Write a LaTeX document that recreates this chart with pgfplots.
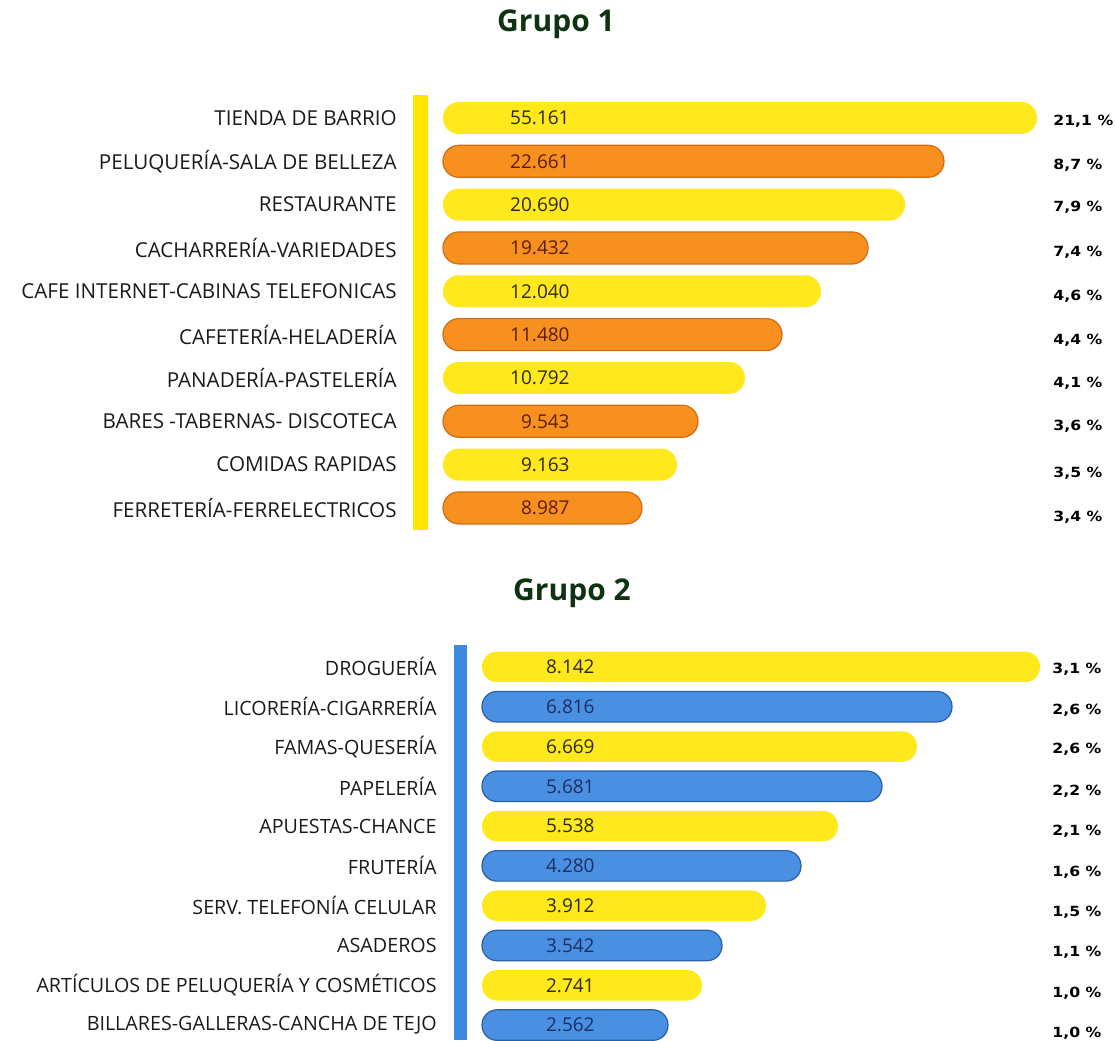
\documentclass[border=0pt]{standalone}
\usepackage{fontspec}
\setmainfont{Open Sans}
\newfontfamily\pctfont[FakeStretch=1.12]{DejaVu Sans}
\usepackage{pgfplots}
\pgfplotsset{compat=1.18}

\definecolor{amarillo}{HTML}{FFE81C}
\definecolor{lineaamarilla}{HTML}{FFE500}
\definecolor{naranja}{HTML}{F7901E}
\definecolor{naranjaborde}{HTML}{D06C12}
\definecolor{azul}{HTML}{4A90E2}
\definecolor{azulborde}{HTML}{2A5FA8}
\definecolor{lineaazul}{HTML}{3D8AE5}
\definecolor{titulo}{HTML}{0D3311}
\definecolor{texto}{HTML}{1A1A1A}
\definecolor{txtamarillo}{HTML}{2B2A10}
\definecolor{txtnaranja}{HTML}{5A1E05}
\definecolor{txtazul}{HTML}{1D2F60}

\pgfplotsset{
  grupo/.style={
    scale only axis, anchor=north west, clip=false,
    y dir=reverse, axis x line=none, axis y line=left,
    xtick=\empty, ytick={0,...,9}, major tick length=0pt,
    yticklabel style={anchor=east, inner sep=0pt, text=texto},
  },
  valor/.style={only marks, mark=none, nodes near coords,
    point meta=explicit symbolic,
    nodes near coords style={anchor=east, inner sep=0pt,
      font=\fontsize{9.5}{11}\selectfont, text=#1}},
  porcentaje/.style={only marks, mark=none, nodes near coords={\pgfplotspointmeta~\%},
    point meta=explicit symbolic,
    nodes near coords style={anchor=west, inner sep=0pt, text=black,
      font=\pctfont\bfseries\fontsize{7}{8}\selectfont}},
}

\begin{document}
\begin{tikzpicture}
\useasboundingbox (0pt,0pt) rectangle (557.5pt,-520pt);

\node[font=\fontsize{15}{18}\selectfont\bfseries, text=titulo] at (278pt,-12pt) {Grupo 1};
\node[font=\fontsize{15}{18}\selectfont\bfseries, text=titulo] at (286pt,-296.5pt) {Grupo 2};

% Grupo 1 (bar lengths as drawn, in px from the bar start)
\begin{axis}[grupo,
  at={(210.5pt,-47.5pt)}, width=347pt, height=217.5pt,
  xmin=-22, xmax=672, ymin=-0.53, ymax=9.51,
  bar width=16pt,
  y axis line style={draw=lineaamarilla, line width=7.5pt, -},
  yticklabel style={xshift=-12pt, font=\fontsize{10.3}{12}\selectfont},
  yticklabels={TIENDA DE BARRIO, PELUQUERÍA-SALA DE BELLEZA, RESTAURANTE,
    CACHARRERÍA-VARIEDADES, CAFE INTERNET-CABINAS TELEFONICAS,
    CAFETERÍA-HELADERÍA, PANADERÍA-PASTELERÍA, BARES -TABERNAS- DISCOTECA,
    COMIDAS RAPIDAS, FERRETERÍA-FERRELECTRICOS},
]
\addplot[xbar, bar shift=0pt, fill=amarillo, draw=none, rounded corners=7.9pt]
  coordinates {(594,0) (462,2) (378,4) (302,6) (234,8)};
\addplot[xbar, bar shift=0pt, fill=naranja, draw=naranjaborde, line width=0.6pt, rounded corners=7.9pt]
  coordinates {(501,1) (425,3) (339,5) (255,7) (199,9)};
\addplot[valor=txtamarillo] coordinates {(127,0) [55.161] (127,2) [20.690] (127,4) [12.040] (127,6) [10.792] (127,8) [9.163]};
\addplot[valor=txtnaranja] coordinates {(127,1) [22.661] (127,3) [19.432] (127,5) [11.480] (127,7) [9.543] (127,9) [8.987]};
\addplot[porcentaje] coordinates {
  (610,0.07) [21,1] (610,1.09) [8,7] (610,2.06) [7,9] (610,3.09) [7,4]
  (610,4.12) [4,6] (610,5.12) [4,4] (610,6.12) [4,1] (610,7.12) [3,6]
  (610,8.2) [3,5] (610,9.21) [3,4]};
\end{axis}

% Grupo 2
\begin{axis}[grupo,
  at={(230.5pt,-322.5pt)}, width=327pt, height=197.4pt,
  xmin=-21, xmax=633, ymin=-0.55, ymax=9.37,
  bar width=15.25pt,
  y axis line style={draw=lineaazul, line width=6.5pt, -},
  yticklabel style={xshift=-12pt, font=\fontsize{9.85}{11}\selectfont},
  yticklabels={DROGUERÍA, LICORERÍA-CIGARRERÍA, FAMAS-QUESERÍA, PAPELERÍA,
    APUESTAS-CHANCE, FRUTERÍA, SERV. TELEFONÍA CELULAR, ASADEROS,
    ARTÍCULOS DE PELUQUERÍA Y COSMÉTICOS, BILLARES-GALLERAS-CANCHA DE TEJO},
]
\addplot[xbar, bar shift=0pt, fill=amarillo, draw=none, rounded corners=7.5pt]
  coordinates {(558,0) (435,2) (356,4) (284,6) (220,8)};
\addplot[xbar, bar shift=0pt, fill=azul, draw=azulborde, line width=0.6pt, rounded corners=7.5pt]
  coordinates {(470,1) (400,3) (319,5) (240,7) (186,9)};
\addplot[valor=txtamarillo] coordinates {(113,0) [8.142] (113,2) [6.669] (113,4) [5.538] (113,6) [3.912] (113,8) [2.741]};
\addplot[valor=txtazul] coordinates {(113,1) [6.816] (113,3) [5.681] (113,5) [4.280] (113,7) [3.542] (113,9) [2.562]};
\addplot[porcentaje] coordinates {
  (570,0.05) [3,1] (570,1.08) [2,6] (570,2.06) [2,6] (570,3.12) [2,2]
  (570,4.12) [2,1] (570,5.15) [1,6] (570,6.16) [1,5] (570,7.17) [1,1]
  (570,8.2) [1,0] (570,9.2) [1,0]};
\end{axis}
\end{tikzpicture}
\end{document}
